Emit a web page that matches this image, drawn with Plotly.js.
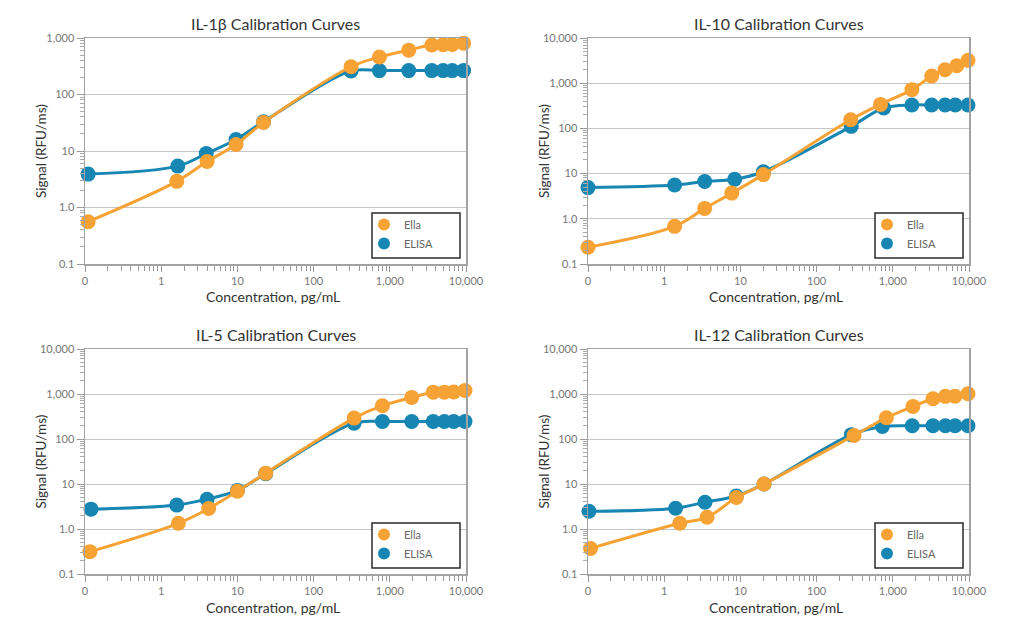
<!DOCTYPE html>
<html><head><meta charset="utf-8">
<script src="https://cdn.plot.ly/plotly-3.0.1.min.js"></script>
<style>html,body{margin:0;padding:0;background:#fff}#chart{width:1036px;height:643px}</style>
</head><body><div id="chart"></div>
<script>
// ---------- DATA ----------
const panelTitles = ["IL-1β Calibration Curves", "IL-10 Calibration Curves", "IL-5 Calibration Curves", "IL-12 Calibration Curves"];
const seriesNames = ["Ella", "ELISA"];
const xTitle = "Concentration, pg/mL";
const yTitle = "Signal (RFU/ms)";
const xTickVals = [0.1, 1, 10, 100, 1000, 10000];
const xTickText = ["0", "1", "10", "100", "1,000", "10,000"];

// IL-1β
const il1b_ella_conc  = [0.11, 1.6, 4.0, 9.6, 22, 310, 730, 1770, 3560, 5000, 6600, 9300];
const il1b_ella_sig   = [0.56, 2.9, 6.5, 13, 32, 310, 460, 610, 750, 760, 770, 810];
const il1b_elisa_conc = [0.11, 1.65, 3.9, 9.6, 22, 310, 730, 1770, 3560, 5000, 6600, 9300];
const il1b_elisa_sig  = [3.9, 5.4, 9.0, 16, 33, 260, 265, 265, 265, 265, 265, 265];

// IL-10
const il10_ella_conc  = [0.1, 1.37, 3.4, 7.7, 20, 280, 690, 1780, 3240, 4840, 6900, 9700];
const il10_ella_sig   = [0.235, 0.68, 1.7, 3.7, 9.5, 155, 340, 720, 1440, 1990, 2440, 3200];
const il10_elisa_conc = [0.1, 1.37, 3.4, 8.4, 20, 285, 760, 1780, 3240, 4840, 6600, 9700];
const il10_elisa_sig  = [4.9, 5.6, 6.7, 7.5, 11, 111, 283, 330, 330, 330, 330, 330];

// IL-5
const il5_ella_conc  = [0.116, 1.68, 4.2, 10, 23.5, 340, 800, 1940, 3720, 5200, 6900, 9700];
const il5_ella_sig   = [0.314, 1.34, 2.85, 6.9, 17.4, 291, 550, 840, 1100, 1100, 1110, 1200];
const il5_elisa_conc = [0.12, 1.6, 4.0, 10, 23.5, 340, 800, 1940, 3720, 5200, 6900, 9700];
const il5_elisa_sig  = [2.76, 3.4, 4.6, 7.2, 17, 225, 245, 245, 245, 245, 245, 245];

// IL-12
const il12_ella_conc  = [0.108, 1.6, 3.65, 8.85, 20.4, 310, 823, 1840, 3370, 4900, 6550, 9700];
const il12_ella_sig   = [0.37, 1.34, 1.82, 5.0, 10, 120, 297, 530, 785, 886, 890, 1010];
const il12_elisa_conc = [0.103, 1.41, 3.43, 8.85, 20.4, 286, 730, 1800, 3370, 4900, 6550, 9700];
const il12_elisa_sig  = [2.48, 2.9, 3.94, 5.4, 10, 125, 190, 197, 197, 197, 197, 197];

const yTickVals = [0.1, 1, 10, 100, 1000, 10000];
const yTickText = ["0.1", "1.0", "10", "100", "1,000", "10,000"];

// ---------- LAYOUT / STYLE ----------
const W = 1036, H = 643;
const px = v => v / W;
const py = v => 1 - v / H;
const ORANGE = "#f6a234";
const BLUE = "#1886b3";
const FONT = "Lato, 'Open Sans', sans-serif";

const panels = [
  {l: 85, r: 466, t: 38, b: 264, ymax: 3, ella: [il1b_ella_conc, il1b_ella_sig], elisa: [il1b_elisa_conc, il1b_elisa_sig]},
  {l: 588, r: 969, t: 38, b: 264, ymax: 4, ella: [il10_ella_conc, il10_ella_sig], elisa: [il10_elisa_conc, il10_elisa_sig]},
  {l: 85, r: 466, t: 349, b: 574, ymax: 4, ella: [il5_ella_conc, il5_ella_sig], elisa: [il5_elisa_conc, il5_elisa_sig]},
  {l: 588, r: 969, t: 349, b: 574, ymax: 4, ella: [il12_ella_conc, il12_ella_sig], elisa: [il12_elisa_conc, il12_elisa_sig]}
];

const traces = [];
const layout = {
  width: W, height: H,
  margin: {l: 0, r: 0, t: 0, b: 0},
  paper_bgcolor: "#fff", plot_bgcolor: "#fff",
  font: {family: FONT, color: "#333"},
  showlegend: true,
  shapes: [], annotations: []
};

panels.forEach((p, i) => {
  const s = i === 0 ? "" : String(i + 1);
  const xa = "x" + s, ya = "y" + s, lg = "legend" + s;

  const series = [
    {name: seriesNames[1], data: p.elisa, color: BLUE, rank: 2},
    {name: seriesNames[0], data: p.ella, color: ORANGE, rank: 1}
  ];
  series.forEach(se => {
    traces.push({
      type: "scatter", mode: "lines", x: se.data[0], y: se.data[1],
      xaxis: xa, yaxis: ya, showlegend: false, hoverinfo: "skip",
      line: {color: se.color, width: 3, shape: "spline", smoothing: 1}
    });
    traces.push({
      type: "scatter", mode: "markers", x: se.data[0], y: se.data[1],
      xaxis: xa, yaxis: ya, name: se.name, legend: lg, legendrank: se.rank,
      cliponaxis: false,
      marker: {color: se.color, size: 15, line: {width: 0}}
    });
  });

  layout["xaxis" + s] = {
    type: "log", range: [-1, 4], domain: [px(p.l), px(p.r)], anchor: ya,
    tickmode: "array", tickvals: xTickVals, ticktext: xTickText,
    ticks: "outside", ticklen: 6, tickwidth: 1, tickcolor: "#999",
    minor: {tickmode: "array", tickvals: [0.2,0.3,0.4,0.5,0.6,0.7,0.8,0.9,2,3,4,5,6,7,8,9,20,30,40,50,60,70,80,90,200,300,400,500,600,700,800,900,2000,3000,4000,5000,6000,7000,8000,9000],
            ticks: "outside", ticklen: 5, tickcolor: "#999", tickwidth: 1, showgrid: false},
    showline: true, mirror: true, linecolor: "#a3a3a3", linewidth: 1.5,
    showgrid: false, zeroline: false, fixedrange: true,
    tickfont: {size: 11, color: "#777", family: FONT}
  };
  const yv = yTickVals.filter(v => Math.log10(v) <= p.ymax + 1e-9);
  const minorY = [];
  for (let d = -1; d < p.ymax; d++) for (let k = 2; k <= 9; k++) minorY.push(k * Math.pow(10, d));
  layout["yaxis" + s] = {
    type: "log", range: [-1, p.ymax], domain: [py(p.b), py(p.t)], anchor: xa,
    tickmode: "array", tickvals: yv, ticktext: yTickText.slice(0, yv.length),
    ticks: "outside", ticklen: 7, tickwidth: 1, tickcolor: "#999",
    minor: {tickmode: "array", tickvals: minorY, ticks: "outside", ticklen: 4, tickcolor: "#aaa", tickwidth: 1, showgrid: false},
    showline: true, mirror: true, linecolor: "#a3a3a3", linewidth: 1.5,
    showgrid: true, gridcolor: "#c6c6c6", gridwidth: 1, zeroline: false, fixedrange: true,
    tickfont: {size: 11, color: "#777", family: FONT}
  };

  // legend box
  const bx0 = p.r - 94, bx1 = p.r - 6, by0 = p.b - 51, by1 = p.b - 6;
  layout.shapes.push({type: "rect", xref: "paper", yref: "paper", x0: px(bx0), x1: px(bx1), y0: py(by1), y1: py(by0),
    line: {color: "#2a2a2a", width: 1.5}, fillcolor: "#fff", layer: "above"});
  layout[lg] = {
    x: px(bx0 - 8), y: py(by0 - 3), xanchor: "left", yanchor: "top",
    bgcolor: "rgba(0,0,0,0)", borderwidth: 0, itemsizing: "constant",
    font: {size: 11, color: "#666", family: FONT}, tracegroupgap: 0
  };

  // subplot title
  const cx = (p.l + p.r) / 2;
  layout.annotations.push({text: panelTitles[i], xref: "paper", yref: "paper", x: px(cx), y: py(p.t - 15),
    xanchor: "center", yanchor: "middle", showarrow: false, font: {size: 16, color: "#333", family: FONT}});
  layout.annotations.push({text: xTitle, xref: "paper", yref: "paper", x: px(cx - 3), y: py(p.b + 33),
    xanchor: "center", yanchor: "middle", showarrow: false, font: {size: 14, color: "#333", family: FONT}});
  layout.annotations.push({text: yTitle, xref: "paper", yref: "paper", x: px(p.l - 44), y: py((p.t + p.b) / 2),
    xanchor: "center", yanchor: "middle", textangle: -90, showarrow: false, font: {size: 13.5, color: "#333", family: FONT}});
});

Plotly.newPlot("chart", traces, layout, {displayModeBar: false, staticPlot: true});
</script>
</body></html>
